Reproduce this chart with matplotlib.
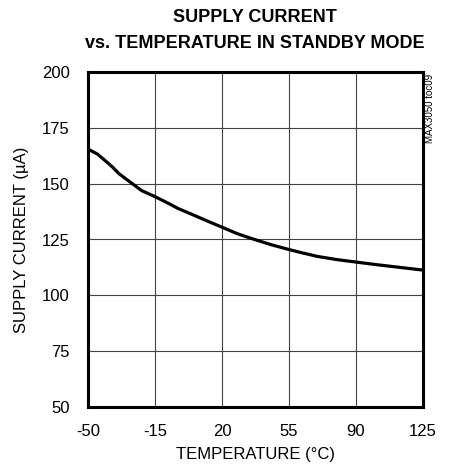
import matplotlib
matplotlib.use("Agg")
import matplotlib.pyplot as plt

plt.rcParams['font.family'] = ['Liberation Sans', 'DejaVu Sans']
plt.rcParams['axes.unicode_minus'] = False

temp = [-50, -45, -41, -37, -34, -30, -27, -22, -15, -8, -3, 5, 12, 20, 28, 37, 46, 55, 62, 70, 80, 90, 100, 110, 125]
current = [165.5, 163.2, 160.3, 157.3, 154.6, 152.0, 150.1, 146.9, 144.2, 141.2, 138.9, 136.0, 133.4, 130.5, 127.6, 125.0, 122.6, 120.5, 119.0, 117.4, 116.0, 114.9, 113.8, 112.8, 111.3]
xticks = [-50, -15, 20, 55, 90, 125]
yticks = [50, 75, 100, 125, 150, 175, 200]

fig = plt.figure(figsize=(4.49, 4.70), dpi=100)
ax = fig.add_axes([88/449, 1-407/470, 335/449, 335/470])
ax.plot(temp, current, color='black', lw=2.3, solid_capstyle='butt', solid_joinstyle='round')
ax.set_xlim(-50, 125)
ax.set_ylim(50, 200)
ax.set_xticks(xticks)
ax.set_yticks(yticks)
ax.grid(True, color='#444444', lw=0.8)
for s in ax.spines.values():
    s.set_linewidth(2.2)
ax.tick_params(axis='y', length=0, labelsize=12, pad=13)
ax.tick_params(axis='x', length=0, labelsize=12, pad=12)
fig.text(255/449, 1-455/470, "TEMPERATURE (°C)", ha='center', va='center', fontsize=12)
fig.text(22/449, 1-240/470, "SUPPLY CURRENT (µA)", ha='center', va='center', fontsize=12, rotation=90)
fig.text(255/449, 1-18/470, "SUPPLY CURRENT", ha='center', va='center', fontsize=13, fontweight='bold')
fig.text(255/449, 1-43/470, "vs. TEMPERATURE IN STANDBY MODE", ha='center', va='center', fontsize=13, fontweight='bold')
fig.text(430/449, 1-74/470, "MAX3050 toc09", rotation=90, ha='center', va='top', fontsize=7)
fig.savefig("out.png", dpi=100)
